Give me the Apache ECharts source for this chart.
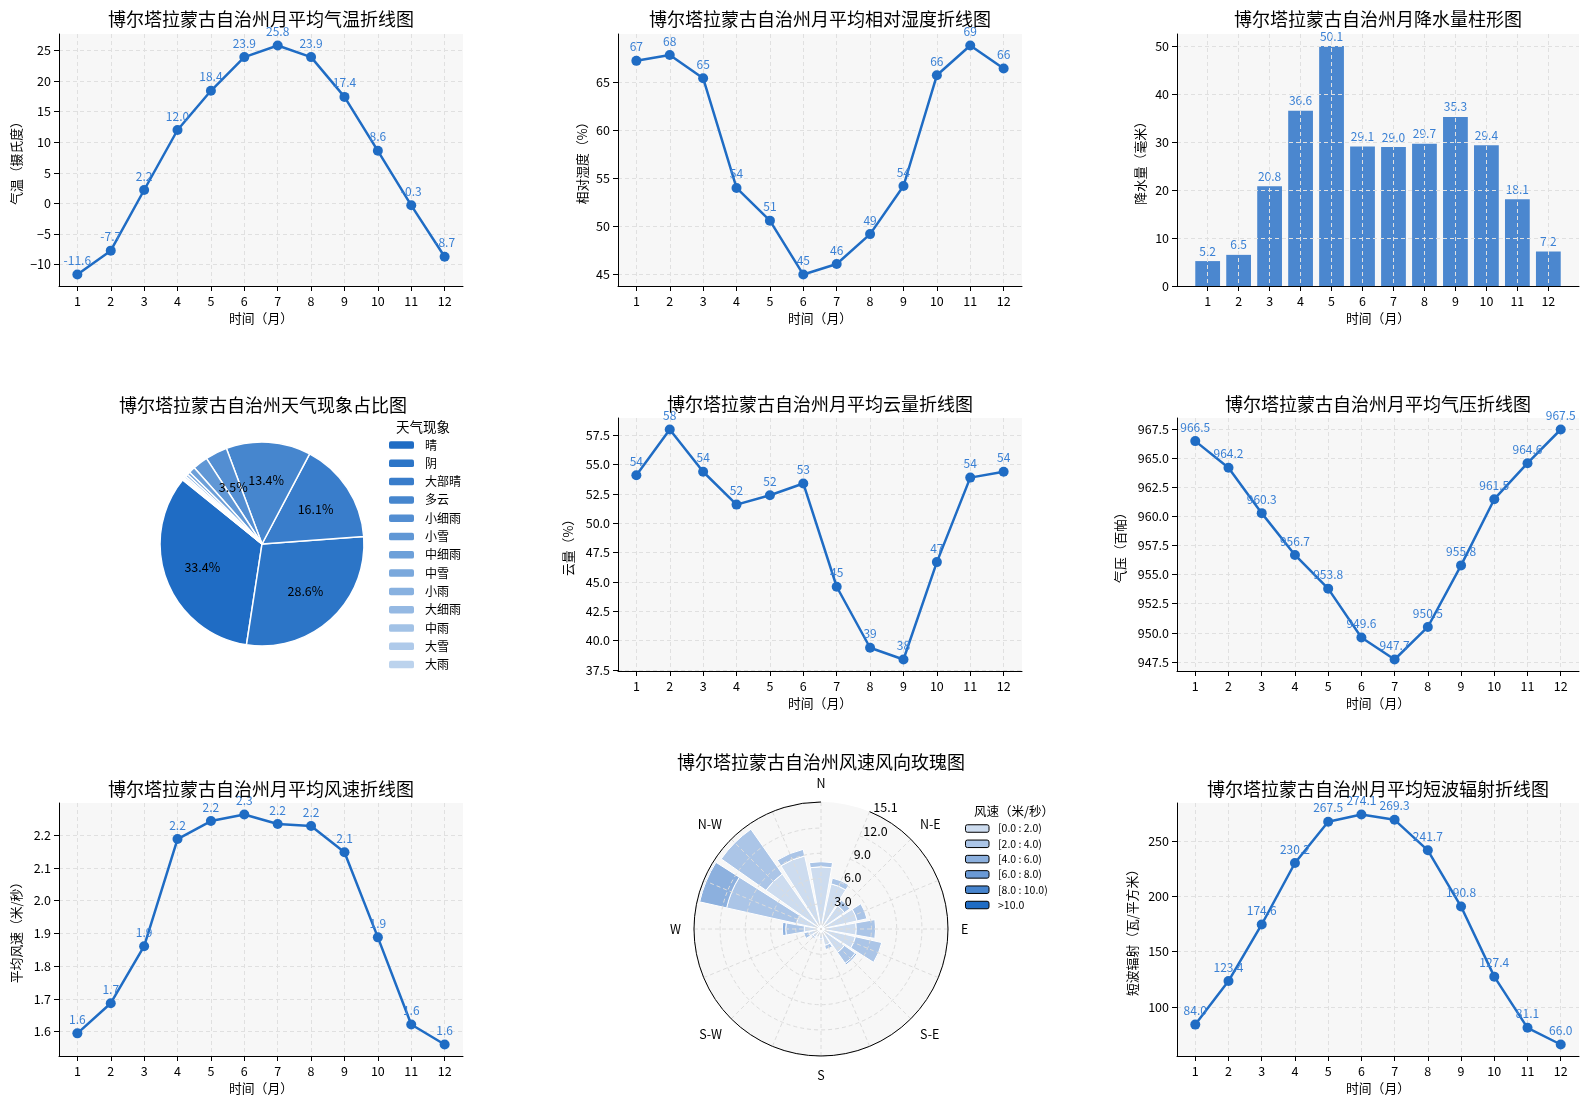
<!DOCTYPE html>
<html><head><meta charset="utf-8">
<script src="https://cdn.jsdelivr.net/npm/echarts@6/dist/echarts.min.js"></script>
<style>html,body{margin:0;padding:0;background:#fff}#c{width:1590px;height:1105px}</style>
</head><body><div id="c"></div>
<script>
// ---------------- data ----------------
const MONTHS = [1,2,3,4,5,6,7,8,9,10,11,12];
const TEMP = [-11.6,-7.7,2.2,12.0,18.4,23.9,25.8,23.9,17.4,8.6,-0.3,-8.7];
const HUMID = [67.2,67.8,65.4,54.0,50.6,45.0,46.1,49.2,54.2,65.7,68.8,66.4];
const PRECIP = [5.2,6.5,20.8,36.6,50.1,29.1,29.0,29.7,35.3,29.4,18.1,7.2];
const CLOUD = [54.1,58.0,54.4,51.6,52.4,53.4,44.6,39.4,38.4,46.7,53.9,54.4];
const PRESSURE = [966.5,964.2,960.3,956.7,953.8,949.6,947.7,950.5,955.8,961.5,964.6,967.5];
const WIND = [1.595,1.687,1.861,2.188,2.243,2.263,2.234,2.228,2.148,1.888,1.622,1.561];
const RADIATION = [84.0,123.4,174.6,230.2,267.5,274.1,269.3,241.7,190.8,127.4,81.1,66.0];

const TEMP_TICKS = [-10,-5,0,5,10,15,20,25];
const HUMID_TICKS = [45,50,55,60,65];
const PRECIP_TICKS = [0,10,20,30,40,50];
const CLOUD_TICKS = [37.5,40,42.5,45,47.5,50,52.5,55,57.5];
const PRESS_TICKS = [947.5,950,952.5,955,957.5,960,962.5,965,967.5];
const WIND_TICKS = [1.6,1.7,1.8,1.9,2.0,2.1,2.2];
const RAD_TICKS = [100,150,200,250];

const WEATHER = ['晴','阴','大部晴','多云','小细雨','小雪','中细雨','中雪','小雨','大细雨','中雨','大雪','大雨'];
const WEATHER_PCT = [33.4,28.6,16.1,13.4,3.5,2.4,1.0,0.5,0.4,0.3,0.2,0.1,0.1];

const ROSE_DIRS = ['N','NNE','N-E','ENE','E','ESE','S-E','SSE','S','SSW','S-W','WSW','W','WNW','N-W','NNW'];
const ROSE_BINS = ['[0.0 : 2.0)','[2.0 : 4.0)','[4.0 : 6.0)','[6.0 : 8.0)','[8.0 : 10.0)','>10.0'];
const ROSE_B0 = [7.4,5.5,3.4,4.4,4.2,4.2,3.4,2.0,1.2,1.0,1.2,1.5,2.0,3.0,8.0,8.9];
const ROSE_B1 = [0.6,0.7,0.8,1.2,2.3,3.2,1.6,0.5,0.2,0.1,0.2,0.6,2.2,8.5,6.5,0.8];
const ROSE_B2 = [0,0,0,0,0,0,0.2,0,0,0,0,0,0.4,3.3,0,0];
const ROSE_B3 = [0,0,0,0,0,0,0,0,0,0,0,0,0,0.1,0,0];
const ROSE_B4 = [0,0,0,0,0,0,0,0,0,0,0,0,0,0,0,0];
const ROSE_B5 = [0,0,0,0,0,0,0,0,0,0,0,0,0,0,0,0];
const ROSE_RINGS = [0,3,6,9,12,15.1];

// ---------------- style ----------------
const FONT = '"Noto Sans CJK SC","Noto Sans",sans-serif';
const LINE_COLOR = '#1f6cc4';
const LABEL_COLOR = '#3a80d4';
const BAR_COLOR = '#4b87cf';
const GRID_BG = '#f7f7f7';
const SPLIT_STYLE = {type:[4,3], color:'#e0e0e0', width:1};
const PIE_COLORS = ['#1f6cc4','#2c75c7','#397dcb','#4686ce','#538ed2','#6097d5','#6da0d9','#7aa8dc','#88b1e0','#95b9e3','#a2c2e6','#afcaea','#bcd3ed'];
const ROSE_COLORS = ['#cddcef','#abc5e7','#8cb0de','#6a9ad6','#4784cd','#1f6cc4'];
const ROSE_CENTER = [821, 929], ROSE_R = 127;

function padRange(arr, lo, hi){
  const mn = lo !== undefined ? lo : Math.min(...arr);
  const mx = hi !== undefined ? hi : Math.max(...arr);
  const s = mx - mn;
  return [mn - 0.05*s, mx + 0.05*s];
}
const minus = s => String(s).replace('-', '\u2212');

const COLS = [[59, 404], [618, 404], [1177, 402]];
const ROWS = [[34, 252], [418, 253], [803, 253]];
const G = (c, r) => ({left:COLS[c][0], width:COLS[c][1], top:ROWS[r][0], height:ROWS[r][1],
  show:true, backgroundColor:GRID_BG, borderWidth:0});
const grids = [G(0,0), G(1,0), G(2,0), G(1,1), G(2,1), G(0,2), G(2,2)];

const xAxes = [], yAxes = [], series = [];

function addX(gi, range, z){
  xAxes.push({
    type:'value', gridIndex:gi, min:range[0], max:range[1], z:z || 0,
    axisLine:{show:true, onZero:false, lineStyle:{color:'#000', width:1}},
    axisTick:{show:true, customValues:MONTHS, length:5, lineStyle:{color:'#000'}},
    axisLabel:{customValues:MONTHS, color:'#000', fontSize:12.5, fontFamily:FONT, margin:9},
    splitLine:{show:true, lineStyle:SPLIT_STYLE},
    name:'时间（月）', nameLocation:'middle', nameGap:26,
    nameTextStyle:{color:'#000', fontSize:12.8, fontFamily:FONT}
  });
}
function addY(gi, range, ticks, dec, name, gap, z){
  yAxes.push({
    type:'value', gridIndex:gi, min:range[0], max:range[1], z:z || 0,
    axisLine:{show:true, onZero:false, lineStyle:{color:'#000', width:1}},
    axisTick:{show:true, customValues:ticks, length:5, lineStyle:{color:'#000'}},
    axisLabel:{customValues:ticks, formatter:v => minus(v.toFixed(dec)), color:'#000', fontSize:12.5, fontFamily:FONT, margin:8},
    splitLine:{show:true, lineStyle:SPLIT_STYLE},
    name:name, nameLocation:'middle', nameGap:gap,
    nameTextStyle:{color:'#000', fontSize:12.8, fontFamily:FONT}
  });
}
function addLine(gi, values, ticks, tickDec, labelDec, name, gap){
  addX(gi, padRange(MONTHS));
  addY(gi, padRange(values), ticks, tickDec, name, gap);
  series.push({
    type:'line', xAxisIndex:gi, yAxisIndex:gi,
    data: MONTHS.map((m,i) => [m, values[i]]),
    symbol:'circle', symbolSize:10,
    lineStyle:{color:LINE_COLOR, width:2.5},
    itemStyle:{color:LINE_COLOR},
    label:{show:true, position:'top', distance:3, color:LABEL_COLOR, fontSize:12, fontFamily:FONT,
      formatter:p => p.value[1].toFixed(labelDec)},
    silent:true
  });
}

addLine(0, TEMP, TEMP_TICKS, 0, 1, '气温（摄氏度）', 36);
addLine(1, HUMID, HUMID_TICKS, 0, 0, '相对湿度（%）', 29);
// bar chart (grid lines drawn above the bars, as in the reference)
addX(2, padRange(MONTHS, MONTHS[0]-0.4, MONTHS[11]+0.4), 3);
addY(2, [0, Math.max(...PRECIP)*1.05], PRECIP_TICKS, 0, '降水量（毫米）', 30, 3);
series.push({
  type:'bar', xAxisIndex:2, yAxisIndex:2,
  data: MONTHS.map((m,i) => [m, PRECIP[i]]),
  barWidth:'80%',
  itemStyle:{color:BAR_COLOR},
  label:{show:true, position:'top', distance:4, color:LABEL_COLOR, fontSize:12, fontFamily:FONT,
    formatter:p => p.value[1].toFixed(1)},
  silent:true
});
addLine(3, CLOUD, CLOUD_TICKS, 1, 0, '云量（%）', 43);
addLine(4, PRESSURE, PRESS_TICKS, 1, 1, '气压（百帕）', 50);
addLine(5, WIND, WIND_TICKS, 1, 1, '平均风速（米/秒）', 36);
addLine(6, RADIATION, RAD_TICKS, 0, 1, '短波辐射（瓦/平方米）', 38);

// pie
const PIE_CENTER = [262, 544], PIE_R = 102;
series.push({
  type:'pie', center:PIE_CENTER, radius:PIE_R, startAngle:141, clockwise:false,
  data: WEATHER.map((n,i) => ({name:n, value:WEATHER_PCT[i], itemStyle:{color:PIE_COLORS[i]}})),
  avoidLabelOverlap:false,
  itemStyle:{borderColor:'#fff', borderWidth:1.5},
  label:{show:false}, labelLine:{show:false}, silent:true
});
series.push({
  type:'pie', center:PIE_CENTER, radius:[20, PIE_R], startAngle:141, clockwise:false,
  percentPrecision:1, avoidLabelOverlap:false,
  data: WEATHER.map((n,i) => ({name:n, value:WEATHER_PCT[i], itemStyle:{color:'rgba(0,0,0,0)'}})),
  itemStyle:{borderWidth:0},
  label:{show:true, position:'inside', color:'#000', fontSize:12.5, fontFamily:FONT,
    formatter:p => p.percent >= 3 ? p.percent.toFixed(1) + '%' : ''},
  labelLine:{show:false}, silent:true
});

// wind rose (category 0 at NNE so radius labels sit at 22.5deg from north)
const roseOrder = ROSE_DIRS.map((d,i) => (i+1) % ROSE_DIRS.length);
const roseBands = [ROSE_B0, ROSE_B1, ROSE_B2, ROSE_B3, ROSE_B4, ROSE_B5];
const isMain = v => v.length === 1 || v.indexOf('-') >= 0;
roseBands.forEach((band, k) => {
  series.push({
    type:'bar', coordinateSystem:'polar', polarIndex:0, stack:'rose', name:ROSE_BINS[k],
    data: roseOrder.map(i => band[i] > 0 ? band[i] : '-'),
    barCategoryGap:'12%',
    itemStyle:{color:ROSE_COLORS[k], borderColor:'#fff', borderWidth:1},
    silent:true
  });
});

const titleStyle = {fontSize:18, fontWeight:'normal', color:'#000', fontFamily:FONT};
const T = (text, x, top, st) => ({text, left:x, top, textAlign:'center', padding:0, textStyle:Object.assign({}, titleStyle, st||{})});
const cx = c => COLS[c][0] + COLS[c][1]/2;

const option = {
  animation:false,
  textStyle:{fontFamily:FONT},
  title:[
    T('博尔塔拉蒙古自治州月平均气温折线图', cx(0), 10),
    T('博尔塔拉蒙古自治州月平均相对湿度折线图', cx(1), 10),
    T('博尔塔拉蒙古自治州月降水量柱形图', cx(2), 10),
    T('博尔塔拉蒙古自治州天气现象占比图', 263, 396),
    T('博尔塔拉蒙古自治州月平均云量折线图', cx(1), 395),
    T('博尔塔拉蒙古自治州月平均气压折线图', cx(2), 395),
    T('博尔塔拉蒙古自治州月平均风速折线图', cx(0), 780),
    T('博尔塔拉蒙古自治州风速风向玫瑰图', 821, 753),
    T('博尔塔拉蒙古自治州月平均短波辐射折线图', cx(2), 780),
    T('天气现象', 423, 420, {fontSize:13.5}),
    T('风速（米/秒）', 1014, 805, {fontSize:12.5})
  ],
  graphic:{elements:[{type:'circle', silent:true, z:0,
    shape:{cx:ROSE_CENTER[0], cy:ROSE_CENTER[1], r:ROSE_R}, style:{fill:GRID_BG}}]},
  grid:grids, xAxis:xAxes, yAxis:yAxes,
  polar:[{center:ROSE_CENTER, radius:ROSE_R}],
  angleAxis:[{
    polarIndex:0, type:'category', data:roseOrder.map(i => ROSE_DIRS[i]),
    boundaryGap:false, startAngle:67.5, clockwise:true, z:3,
    axisLine:{show:true, lineStyle:{color:'#000', width:1}},
    axisTick:{show:false},
    axisLabel:{show:true, interval:0, margin:13, color:'#000', fontSize:12.5, fontFamily:FONT,
      formatter:v => isMain(v) ? v : ''},
    splitLine:{show:true, interval:(i, v) => isMain(v), lineStyle:{type:[4,3], color:'#dcdcdc'}}
  }],
  radiusAxis:[{
    polarIndex:0, type:'value', min:0, max:ROSE_RINGS[ROSE_RINGS.length-1], z:3,
    axisLine:{show:false},
    axisTick:{show:false, customValues:ROSE_RINGS},
    axisLabel:{customValues:ROSE_RINGS, color:'#000', fontSize:12.5, fontFamily:FONT,
      margin:-4, align:'left', verticalAlign:'bottom',
      formatter:v => v === 0 ? '' : v.toFixed(1)},
    splitLine:{show:true, lineStyle:{type:[4,3], color:'#dcdcdc'}}
  }],
  legend:[
    {data:WEATHER.map((n,i) => ({name:n, itemStyle:{color:PIE_COLORS[i]}})),
     orient:'vertical', left:389, top:438, itemWidth:25, itemHeight:7.5, itemGap:4.3, padding:0,
     itemStyle:{borderWidth:0}, selectedMode:false,
     textStyle:{fontSize:12, lineHeight:14, color:'#000', fontFamily:FONT, padding:[0,0,0,6]}},
    {data:ROSE_BINS, orient:'vertical', left:965, top:823, itemWidth:23.5, itemHeight:7.5, itemGap:4.3, padding:0,
     itemStyle:{borderColor:'#000', borderWidth:1}, selectedMode:false,
     textStyle:{fontSize:10.5, lineHeight:11, color:'#000', fontFamily:FONT, padding:[0,0,0,4]}}
  ],
  series:series
};
const chart = echarts.init(document.getElementById('c'));
chart.setOption(option);
</script></body></html>
